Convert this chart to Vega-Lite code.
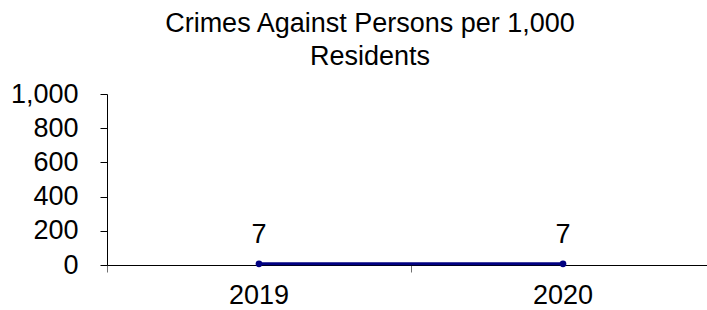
{
  "$schema": "https://vega.github.io/schema/vega-lite/v6.json",
  "width": 600,
  "height": 171,
  "autosize": {"type": "none"},
  "padding": {"left": 107, "top": 94, "right": 0, "bottom": 45},
  "background": "white",
  "title": {
    "text": ["Crimes Against Persons per 1,000", "Residents"],
    "font": "Liberation Sans",
    "fontSize": 27,
    "fontWeight": "normal",
    "color": "#000000",
    "lineHeight": 33,
    "anchor": "middle",
    "dx": -37,
    "offset": 9
  },
  "data": {"values": [{"year": "2019", "value": 7}, {"year": "2020", "value": 7}]},
  "config": {
    "view": {"stroke": null},
    "font": "Liberation Sans"
  },
  "encoding": {
    "x": {
      "field": "year",
      "type": "ordinal",
      "scale": {"type": "band", "paddingInner": 0, "paddingOuter": 0, "range": [0, 608]},
      "axis": {
        "title": null,
        "labelAngle": 0,
        "labelFont": "Liberation Sans",
        "labelFontSize": 27,
        "labelColor": "#000000",
        "labelPadding": 10,
        "bandPosition": 0,
        "tickExtra": false,
        "tickSize": 7,
        "tickColor": "#707070",
        "domainColor": "#000000",
        "grid": false
      }
    },
    "y": {
      "field": "value",
      "type": "quantitative",
      "scale": {"domain": [0, 1000]},
      "axis": {
        "title": null,
        "values": [0, 200, 400, 600, 800, 1000],
        "format": ",d",
        "labelFont": "Liberation Sans",
        "labelFontSize": 27,
        "labelColor": "#000000",
        "labelPadding": 22,
        "tickSize": 7,
        "tickColor": "#000000",
        "domainColor": "#000000",
        "grid": false
      }
    }
  },
  "layer": [
    {
      "mark": {
        "type": "line",
        "color": "#000080",
        "strokeWidth": 3,
        "point": {"filled": true, "size": 45, "color": "#000080"}
      }
    },
    {
      "mark": {
        "type": "text",
        "font": "Liberation Sans",
        "fontSize": 27,
        "baseline": "alphabetic",
        "dy": -21,
        "color": "#000000"
      },
      "encoding": {"text": {"field": "value", "type": "quantitative"}}
    }
  ]
}
